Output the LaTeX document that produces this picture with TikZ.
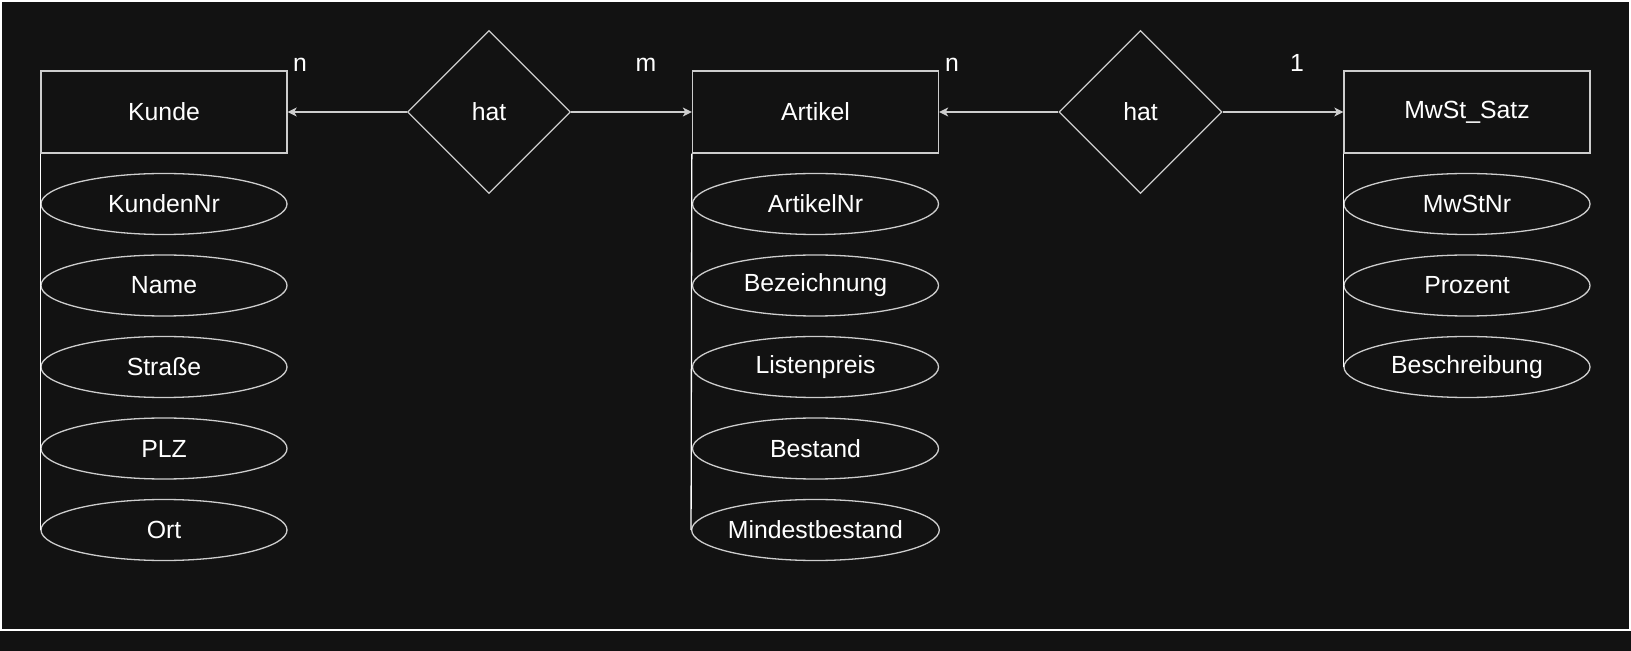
\documentclass[tikz,border=0pt]{standalone}
\usepackage{fontspec}
\setmainfont{Liberation Sans}
\usetikzlibrary{shapes.geometric,arrows.meta}
\definecolor{bgdark}{RGB}{18,18,18}
\definecolor{strokegray}{RGB}{205,205,205}

\begin{document}
\begin{tikzpicture}[
    x=0.5pt, y=-0.5pt,
    every node/.style={
        text=white,
        font=\fontsize{12.4}{15}\selectfont
    },
    entity node/.style={
        rectangle,
        draw=strokegray,
        line width=0.65pt,
        minimum width=123pt,
        minimum height=41pt,
        inner sep=0pt
    },
    attribute node/.style={
        ellipse,
        draw=strokegray,
        line width=0.65pt,
        minimum width=123pt,
        minimum height=30.5pt,
        inner sep=0pt
    },
    relation node/.style={
        diamond,
        aspect=1,
        draw=strokegray,
        line width=0.65pt,
        minimum width=81.5pt,
        minimum height=81.5pt,
        inner sep=0pt
    },
    connection/.style={
        -{Stealth[length=4.5pt,width=4.5pt,inset=1.2pt]},
        strokegray,
        line width=0.65pt
    },
    attr line/.style={
        white,
        line width=0.65pt
    },
    card label/.style={anchor=base, inner sep=0pt}
]

\def\colsep{651.5}
\def\rowsep{81.5}
\def\toprow{112}
\def\attrtop{204}

%% --- Hintergrund und Rahmen ---
\fill[bgdark] (0,0) rectangle (1631,651);
\draw[white, line width=0.65pt] (1,1) rectangle (1630,630);

%% --- Entitaeten ---
\node[entity node] (Kunde)   at (164, \toprow)            {Kunde};
\node[entity node] (Artikel) at (164+\colsep, \toprow)    {Artikel};
\node[entity node] (MwSt)    at (164+2*\colsep, \toprow)  {MwSt\_Satz};

%% --- Beziehungen ---
\node[relation node] (R1) at (489, \toprow)          {hat};
\node[relation node] (R2) at (489+\colsep, \toprow)  {hat};

%% --- Attribute Kunde ---
\foreach \txt [count=\i from 0] in {KundenNr, Name, Straße, PLZ, Ort} {
    \node[attribute node] (K\i) at (164, \attrtop+\i*\rowsep) {\txt};
}

%% --- Attribute Artikel ---
\foreach \txt [count=\i from 0] in {ArtikelNr, Bezeichnung, Listenpreis, Bestand, Mindestbestand} {
    \node[attribute node] (A\i) at (164+\colsep, \attrtop+\i*\rowsep) {\txt};
}

%% --- Attribute MwSt_Satz ---
\foreach \txt [count=\i from 0] in {MwStNr, Prozent, Beschreibung} {
    \node[attribute node] (M\i) at (164+2*\colsep, \attrtop+\i*\rowsep) {\txt};
}

%% --- Attributlinien ---
\draw[attr line] (Kunde.south west) -- (K4.west);
\draw[attr line] (Artikel.south west) -- (A4.west);
\draw[attr line] (MwSt.south west) -- (M2.west);

%% --- Verbindungen ---
\draw[connection] (R1.west) -- (Kunde.east);
\draw[connection] (R1.east) -- (Artikel.west);
\draw[connection] (R2.west) -- (Artikel.east);
\draw[connection] (R2.east) -- (MwSt.west);

%% --- Kardinalitaeten ---
\node[card label] (c1) at (300, 72)  {n};
\node[card label] (c2) at (646, 72)  {m};
\node[card label] (c3) at (952, 72)  {n};
\node[card label] (c4) at (1297, 72) {1};

\end{tikzpicture}
\end{document}
